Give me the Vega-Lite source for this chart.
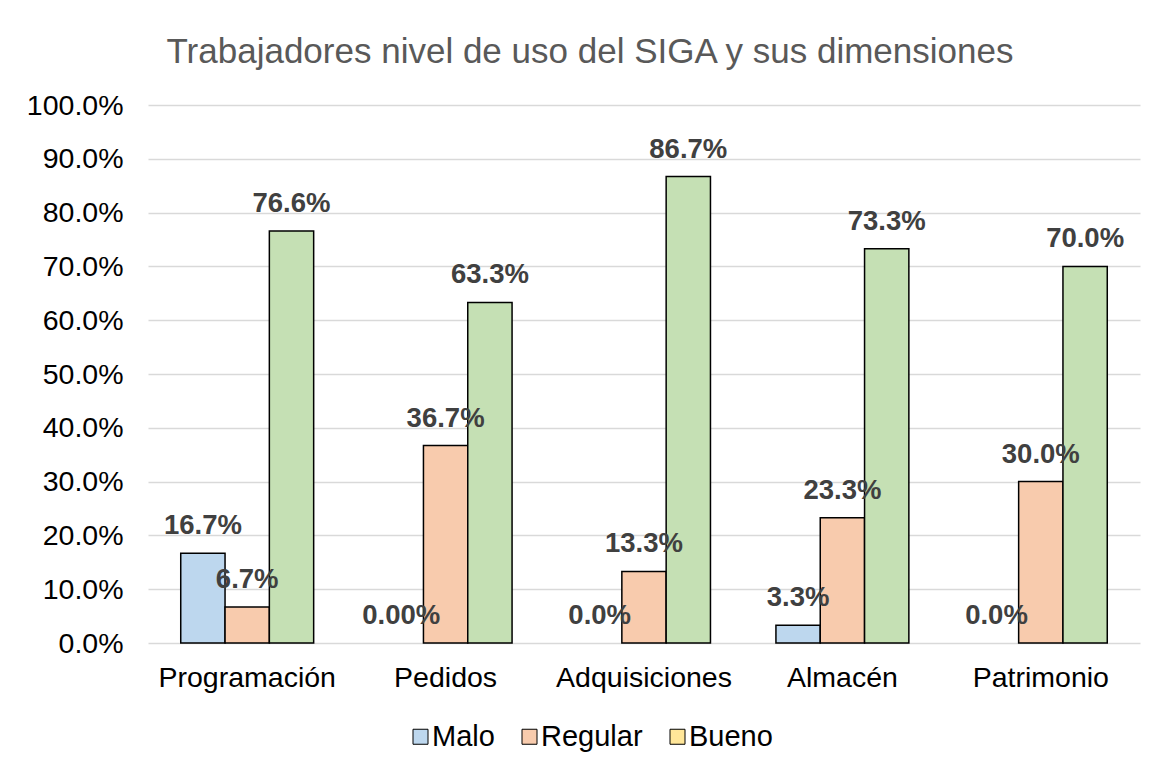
{
  "$schema": "https://vega.github.io/schema/vega-lite/v6.json",
  "width": 992,
  "height": 538,
  "autosize": {"type": "none"},
  "padding": {"left": 148, "top": 105, "right": 18, "bottom": 124},
  "background": "white",
  "title": {
    "text": "Trabajadores nivel de uso del SIGA y sus dimensiones",
    "fontSize": 35,
    "font": "Liberation Sans",
    "fontWeight": "normal",
    "color": "#595959",
    "anchor": "middle",
    "frame": "group",
    "dx": -54,
    "offset": 21
  },
  "data": {
    "values": [
      {"dim": "Programación", "serie": "Malo", "valor": 0.167, "etiqueta": "16.7%"},
      {"dim": "Programación", "serie": "Regular", "valor": 0.067, "etiqueta": "6.7%"},
      {"dim": "Programación", "serie": "Bueno", "valor": 0.766, "etiqueta": "76.6%"},
      {"dim": "Pedidos", "serie": "Malo", "valor": 0.0, "etiqueta": "0.00%"},
      {"dim": "Pedidos", "serie": "Regular", "valor": 0.367, "etiqueta": "36.7%"},
      {"dim": "Pedidos", "serie": "Bueno", "valor": 0.633, "etiqueta": "63.3%"},
      {"dim": "Adquisiciones", "serie": "Malo", "valor": 0.0, "etiqueta": "0.0%"},
      {"dim": "Adquisiciones", "serie": "Regular", "valor": 0.133, "etiqueta": "13.3%"},
      {"dim": "Adquisiciones", "serie": "Bueno", "valor": 0.867, "etiqueta": "86.7%"},
      {"dim": "Almacén", "serie": "Malo", "valor": 0.033, "etiqueta": "3.3%"},
      {"dim": "Almacén", "serie": "Regular", "valor": 0.233, "etiqueta": "23.3%"},
      {"dim": "Almacén", "serie": "Bueno", "valor": 0.733, "etiqueta": "73.3%"},
      {"dim": "Patrimonio", "serie": "Malo", "valor": 0.0, "etiqueta": "0.0%"},
      {"dim": "Patrimonio", "serie": "Regular", "valor": 0.30, "etiqueta": "30.0%"},
      {"dim": "Patrimonio", "serie": "Bueno", "valor": 0.70, "etiqueta": "70.0%"}
    ]
  },
  "encoding": {
    "x": {
      "field": "dim",
      "type": "nominal",
      "sort": ["Programación", "Pedidos", "Adquisiciones", "Almacén", "Patrimonio"],
      "scale": {"paddingInner": 0.33, "paddingOuter": 0.165},
      "axis": {
        "title": null,
        "labelAngle": 0,
        "labelFont": "Liberation Sans",
        "labelFontSize": 28.5,
        "labelColor": "black",
        "labelPadding": 20,
        "domain": false,
        "ticks": false
      }
    },
    "xOffset": {
      "field": "serie",
      "type": "nominal",
      "sort": ["Malo", "Regular", "Bueno"],
      "scale": {"paddingInner": 0, "paddingOuter": 0}
    },
    "y": {
      "field": "valor",
      "type": "quantitative",
      "scale": {"domain": [0, 1]},
      "axis": {
        "title": null,
        "values": [0, 0.1, 0.2, 0.3, 0.4, 0.5, 0.6, 0.7, 0.8, 0.9, 1.0],
        "format": ".1%",
        "labelFont": "Liberation Sans",
        "labelFontSize": 28.5,
        "labelColor": "black",
        "labelPadding": 25,
        "domain": false,
        "ticks": false,
        "grid": true,
        "gridColor": "#D9D9D9",
        "gridWidth": 1.5
      }
    }
  },
  "layer": [
    {
      "mark": {"type": "bar", "strokeWidth": 1.5},
      "encoding": {
        "fill": {
          "field": "serie",
          "type": "nominal",
          "sort": ["Malo", "Regular", "Bueno"],
          "scale": {"domain": ["Malo", "Regular", "Bueno"], "range": ["#BDD7EE", "#F8CBAD", "#C5E0B4"]},
          "legend": null
        },
        "stroke": {
          "condition": {"test": "datum.valor > 0", "value": "black"},
          "value": null
        }
      }
    },
    {
      "mark": {"type": "bar", "strokeWidth": 0, "opacity": 1},
      "encoding": {
        "y": {"datum": 0, "type": "quantitative"},
        "fill": {
          "field": "serie",
          "type": "nominal",
          "sort": ["Malo", "Regular", "Bueno"],
          "scale": {"domain": ["Malo", "Regular", "Bueno"], "range": ["#BDD7EE", "#F8CBAD", "#FFE699"]},
          "legend": {
            "title": null,
            "orient": "none",
            "direction": "horizontal",
            "legendX": 258,
            "legendY": 617,
            "labelFont": "Liberation Sans",
            "labelFontSize": 29,
            "labelColor": "black",
            "labelOffset": -3,
            "columnPadding": 20,
            "symbolType": "square",
            "symbolSize": 225,
            "symbolStrokeColor": "black",
            "symbolStrokeWidth": 1,
            "symbolOpacity": 1
          }
        }
      }
    },
    {
      "mark": {
        "type": "text",
        "font": "Liberation Sans",
        "fontSize": 27.5,
        "fontWeight": "bold",
        "color": "#404040",
        "baseline": "alphabetic",
        "dy": -19
      },
      "encoding": {
        "text": {"field": "etiqueta", "type": "nominal"}
      }
    }
  ],
  "resolve": {"scale": {"fill": "independent"}, "legend": {"fill": "independent"}},
  "config": {
    "view": {"stroke": null}
  }
}
